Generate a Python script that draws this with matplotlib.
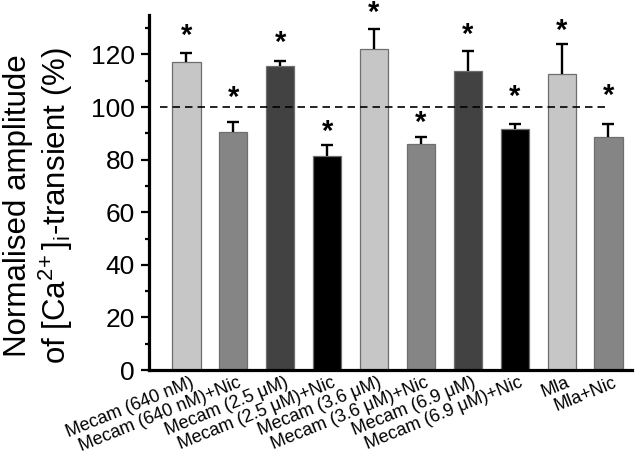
import numpy as np
import matplotlib
matplotlib.use('Agg')
import matplotlib.pyplot as plt
import matplotlib.transforms as mtransforms

plt.rcParams['font.family'] = ['Liberation Sans', 'DejaVu Sans']
plt.rcParams['mathtext.fontset'] = 'custom'
plt.rcParams['mathtext.rm'] = 'Liberation Sans'

# data
labels = ['Mecam (640 nM)', 'Mecam (640 nM)+Nic',
          'Mecam (2.5 μM)', 'Mecam (2.5 μM)+Nic',
          'Mecam (3.6 μM)', 'Mecam (3.6 μM)+Nic',
          'Mecam (6.9 μM)', 'Mecam (6.9 μM)+Nic',
          'Mla', 'Mla+Nic']
values = [117.1, 90.5, 115.8, 81.2, 122.2, 85.8, 113.9, 91.5, 112.5, 88.7]
errors = [3.5, 3.8, 1.9, 4.2, 7.5, 2.7, 7.6, 2.2, 11.4, 4.8]
star_y = [127.2, 103.3, 124.3, 90.5, 135.7, 93.9, 127.4, 103.8, 129.1, 104.4]
colors = ['#c6c6c6', '#858585', '#424242', '#000000'] * 2 + ['#c6c6c6', '#858585']

x = np.arange(len(labels))

fig = plt.figure(figsize=(6.38, 4.62), dpi=100)
ax = fig.add_axes([0.2335, 0.1991, 0.757, 0.7684])

ax.bar(x, values, width=0.6, color=colors, edgecolor='#6e6e6e', linewidth=0.9, zorder=2)
eb = ax.errorbar(x, values, yerr=[np.zeros(len(x)), errors], fmt='none', ecolor='black',
                 elinewidth=1.7, capsize=4.2, capthick=1.7, zorder=3)
eb[1][0].set_visible(False)

for xi, sy in zip(x, star_y):
    ax.text(xi, sy, '*', ha='center', va='center', fontsize=21, fontweight='bold', zorder=4)

ax.hlines(100, x[0] - 0.57, x[-1], colors='black', linewidth=1.2,
          linestyles=(0, (4.5, 3)), zorder=4)

ax.set_xlim(-0.8, 9.5)
ax.set_ylim(0, 135)
ax.set_yticks(np.arange(0, 121, 20))
ax.set_yticks(np.arange(10, 135, 10), minor=True)
ax.tick_params(axis='y', which='major', direction='out', length=6, width=1.6,
               labelsize=19, pad=4)
ax.tick_params(axis='y', which='minor', direction='out', length=3, width=1.6)
ax.tick_params(axis='x', length=0, pad=3)

ax.set_xticks(x)
ax.set_xticklabels(labels, rotation=22, ha='right', rotation_mode='anchor', fontsize=13)
offset = mtransforms.ScaledTranslation(0.04, 0, fig.dpi_scale_trans)
for lab in ax.get_xticklabels():
    lab.set_transform(lab.get_transform() + offset)

for side in ['top', 'right']:
    ax.spines[side].set_visible(False)
for side in ['left', 'bottom']:
    ax.spines[side].set_linewidth(2.3)

ax.set_ylabel('Normalised amplitude\nof [Ca$^{\\mathregular{2\\!+}}$]$_{\\mathregular{i}}$-transient (%)',
              fontsize=22.5, linespacing=1.15)
ax.yaxis.label.set_va('center')
ax.yaxis.set_label_coords(-0.228, 0.462)

fig.savefig('out.png', dpi=100)
